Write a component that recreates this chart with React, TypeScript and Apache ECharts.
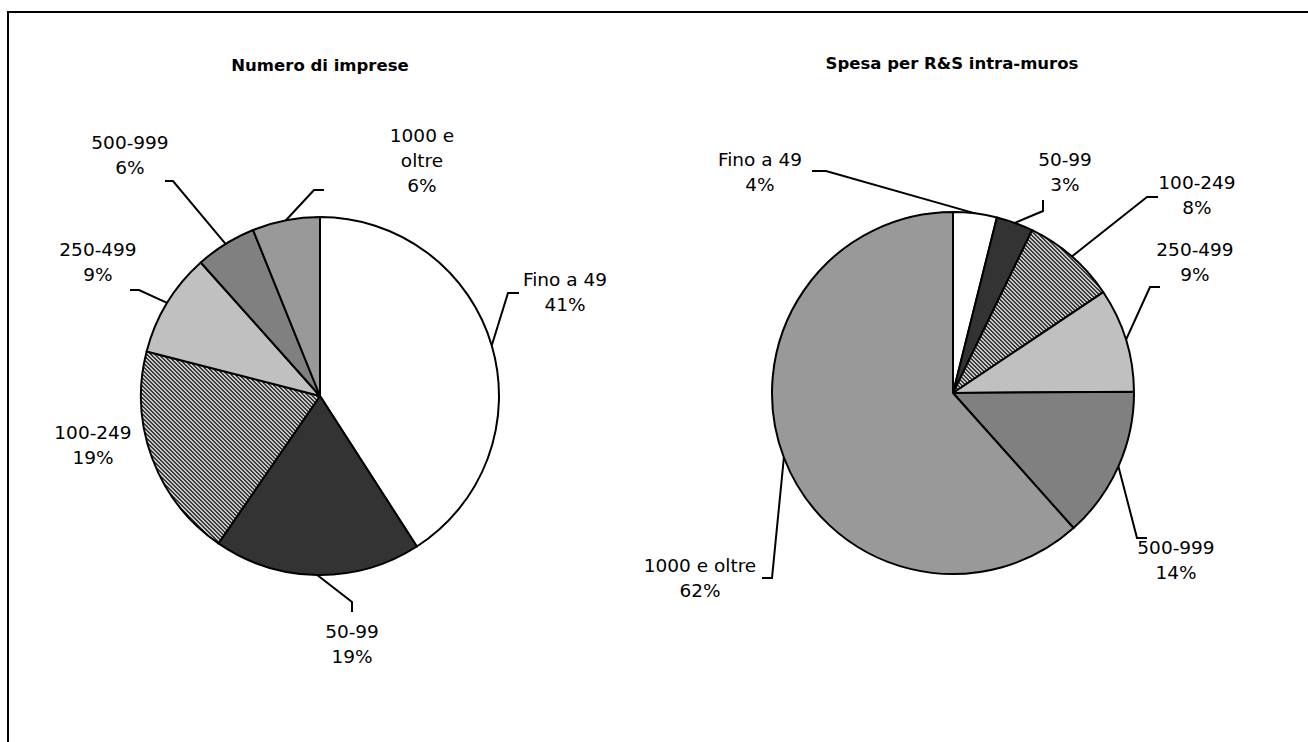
import React, { useEffect, useRef } from "react";
import * as echarts from "echarts";

const CATEGORIES = ["Fino a 49", "50-99", "100-249", "250-499", "500-999", "1000 e oltre"];
const IMPRESE = [40.9, 18.7, 19.4, 9.4, 5.5, 6.1];
const SPESA = [3.9, 3.3, 8.4, 9.3, 13.5, 61.6];
const TITLES = ["Numero di imprese", "Spesa per R&S intra-muros"];

const SOLID_COLORS = ["#ffffff", "#333333", null, "#c0c0c0", "#808080", "#999999"];

const PIES = [
  { center: [320, 396], radius: 179, titleX: 320, titleY: 65 },
  { center: [953, 393], radius: 181, titleX: 952, titleY: 63 },
];

// label anchor (text centre) and leader-line tick points
const LABEL_LAYOUT = [
  [
    { x: 565, y: 292, tick: [[508, 293], [519, 293]] },
    { x: 352, y: 644, tick: [[352, 602], [352, 612]] },
    { x: 93, y: 445, tick: null },
    { x: 98, y: 262, tick: [[139, 290], [130, 290]] },
    { x: 130, y: 155, tick: [[173, 181], [165, 181]] },
    { x: 422, y: 160, tick: [[314, 190], [324, 190]] },
  ],
  [
    { x: 760, y: 172, tick: [[826, 171], [812, 171]] },
    { x: 1065, y: 172, tick: [[1043, 211], [1043, 200]] },
    { x: 1197, y: 195, tick: [[1147, 197], [1158, 197]] },
    { x: 1195, y: 262, tick: [[1150, 287], [1160, 287]] },
    { x: 1176, y: 560, tick: [[1137, 538], [1147, 538]] },
    { x: 700, y: 578, tick: [[772, 578], [762, 578]] },
  ],
];

function makePattern() {
  const c = document.createElement("canvas");
  c.width = 4;
  c.height = 4;
  const ctx = c.getContext("2d")!;
  ctx.fillStyle = "#c8c8c8";
  ctx.fillRect(0, 0, 4, 4);
  ctx.fillStyle = "#3a3a3a";
  for (let i = 0; i < 4; i++) {
    ctx.fillRect(i, i, 1, 1);
    ctx.fillRect((i + 1) % 4, i, 1, 1);
  }
  return { image: c, repeat: "repeat", imageWidth: 4, imageHeight: 4 } as any;
}

function midEdge(values: number[], idx: number, center: number[], r: number) {
  const total = values.reduce((a, b) => a + b, 0);
  let cum = 0;
  for (let i = 0; i < idx; i++) cum += values[i];
  const mid = ((cum + values[idx] / 2) / total) * Math.PI * 2;
  return [center[0] + r * Math.sin(mid), center[1] - r * Math.cos(mid)];
}

export default function App() {
  const ref = useRef<HTMLDivElement>(null);
  useEffect(() => {
    if (!ref.current) return;
    const chart = echarts.init(ref.current, null, { renderer: "svg" });
    const pattern = makePattern();
    const colors = SOLID_COLORS.map((c) => (c === null ? pattern : c));
    const datasets = [IMPRESE, SPESA];

    const series = datasets.map((vals, si) => ({
      type: "pie",
      center: PIES[si].center,
      radius: PIES[si].radius,
      startAngle: 90,
      clockwise: true,
      avoidLabelOverlap: false,
      silent: true,
      data: CATEGORIES.map((name, i) => ({
        name,
        value: vals[i],
        itemStyle: { color: colors[i] },
      })),
      itemStyle: { borderColor: "#000", borderWidth: 2 },
      label: {
        show: true,
        position: "outside",
        color: "#000",
        fontFamily: "DejaVu Sans",
        fontSize: 18.5,
        lineHeight: 25,
        align: "center",
        formatter: (p: any) => {
          const name = si === 0 && p.name === "1000 e oltre" ? "1000 e\noltre" : p.name;
          return name + "\n" + Math.round(p.value) + "%";
        },
      },
      labelLine: {
        show: true,
        length: 10,
        length2: 10,
        lineStyle: { color: "#000", width: 2 },
      },
      labelLayout: (params: any) => {
        const lay = LABEL_LAYOUT[si][params.dataIndex];
        const start = midEdge(vals, params.dataIndex, PIES[si].center, PIES[si].radius);
        const pts = lay.tick ? [start, lay.tick[0], lay.tick[1]] : [start, start, start];
        return {
          x: lay.x,
          y: lay.y,
          align: "center",
          verticalAlign: "middle",
          labelLinePoints: pts,
        };
      },
    }));

    const titleGraphics = TITLES.map((t, i) => ({
      type: "text",
      x: PIES[i].titleX,
      y: PIES[i].titleY,
      silent: true,
      style: {
        text: t,
        align: "center",
        verticalAlign: "middle",
        fill: "#000",
        font: "bold 16.5px 'DejaVu Sans'",
      },
    }));

    chart.setOption({
      animation: false,
      backgroundColor: "#ffffff",
      series,
      graphic: [
        {
          type: "line",
          silent: true,
          shape: { x1: 7, y1: 12, x2: 1308, y2: 12 },
          style: { stroke: "#000", lineWidth: 2 },
        },
        {
          type: "line",
          silent: true,
          shape: { x1: 8, y1: 11, x2: 8, y2: 742 },
          style: { stroke: "#000", lineWidth: 2 },
        },
        ...titleGraphics,
      ],
    });
    return () => chart.dispose();
  }, []);
  return (
    <div
      ref={ref}
      style={{ position: "absolute", left: 0, top: 0, width: 1308, height: 742 }}
    />
  );
}
